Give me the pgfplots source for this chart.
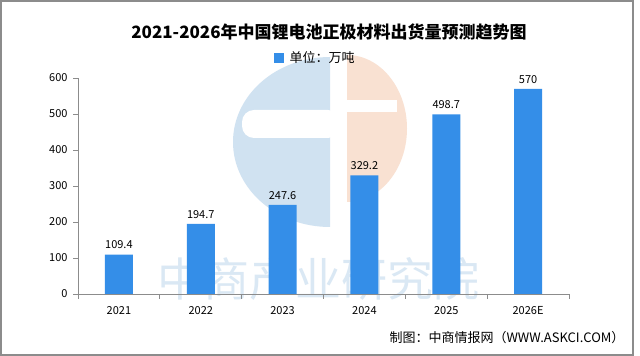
\documentclass[border=0pt]{standalone}
\usepackage{fontspec}
\setmainfont{Noto Sans CJK SC}
\usepackage{pgfplots}
\pgfplotsset{compat=1.18}
\definecolor{barblue}{RGB}{52,142,232}
\definecolor{axgray}{RGB}{140,140,140}
\definecolor{wmblue}{RGB}{208,226,241}
\definecolor{wmtext}{RGB}{218,232,244}
\definecolor{wmpeach}{RGB}{249,225,210}
\begin{document}
\begin{tikzpicture}
\useasboundingbox (0pt,0pt) rectangle (640pt,356pt);
\fill[white] (0pt,0pt) rectangle (640pt,356pt);
% watermark logo
\fill[wmblue] (330pt,299pt) arc[start angle=90, end angle=270, x radius=97pt, y radius=85pt] -- cycle;
\fill[white, rounded corners=12pt] (242pt,218pt) rectangle (340pt,246pt);
\fill[wmpeach] (347pt,301pt) arc[start angle=90, end angle=-90, x radius=60pt, y radius=73.5pt] -- cycle;
\fill[white] (346pt,244pt) rectangle (397pt,256pt);
\node[text=wmtext, font=\fontsize{46}{46}\selectfont, anchor=center, inner sep=0pt] at (318pt,77pt) {中商产业研究院};
\begin{axis}[
  at={(78pt,62pt)}, anchor=south west,
  scale only axis, width=491pt, height=216pt,
  xmin=-0.5, xmax=5.5, ymin=0, ymax=600,
  ytick={0,100,...,600},
  xtick={0,1,2,3,4,5},
  xticklabels={2021,2022,2023,2024,2025,2026E},
  minor xtick={-0.5,0.5,...,5.5},
  axis x line*=bottom, axis y line*=left,
  axis line style={axgray, line width=0.8pt, -},
  every tick/.style={axgray, line width=0.8pt},
  major x tick style={draw=none},
  tick align=outside,
  major tick length=5pt, minor tick length=5pt,
  tick label style={font=\fontsize{11}{11}\selectfont, text=black},
  /pgf/number format/assume math mode=true,
  yticklabel style={xshift=-2pt},
  xticklabel style={yshift=-4pt},
  ybar, bar width=28pt,
  nodes near coords,
  nodes near coords style={font=\fontsize{11}{11}\selectfont, text=black, yshift=2pt},
  point meta=explicit symbolic,
  clip=false,
]
\addplot[fill=barblue, draw=none] coordinates {
 (0,109.4) [109.4]
 (1,194.7) [194.7]
 (2,247.6) [247.6]
 (3,329.2) [329.2]
 (4,498.7) [498.7]
 (5,570) [570]
};
\end{axis}
% title and legend
\node[font=\fontsize{17}{17}\selectfont\bfseries] at (329pt,324pt) {2021-2026年中国锂电池正极材料出货量预测趋势图};
\fill[barblue] (274pt,293pt) rectangle (284pt,303pt);
\node[font=\fontsize{13}{13}\selectfont, anchor=west] at (286pt,298pt) {单位：万吨};
\node[font=\fontsize{13}{13}\selectfont, anchor=east] at (628pt,18pt) {制图：中商情报网（WWW.ASKCI.COM）};
\draw[axgray, line width=1.2pt] (1pt,1pt) rectangle (633pt,355pt);
\end{tikzpicture}
\end{document}
